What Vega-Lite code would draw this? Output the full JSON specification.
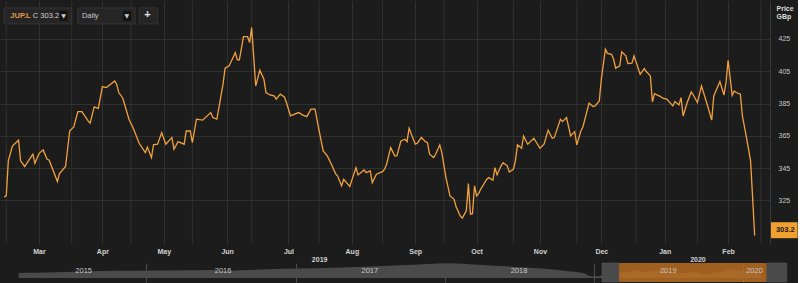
{
"$schema":"https://vega.github.io/schema/vega-lite/v6.json",
"background":"#1c1c1c",
"padding":0,
"bounds":"flush",
"spacing":19,
"config":{"view":{"stroke":null},"font":"Liberation Sans"},
"resolve":{"scale":{"x":"independent","y":"independent"}},
"datasets":{
"price":[
{"d":"2019-02-12","v":327.2},{"d":"2019-02-13","v":327.8},{"d":"2019-02-14","v":349.5},{"d":"2019-02-16","v":358.7},{"d":"2019-02-19","v":362.3},{"d":"2019-02-20","v":349.5},{"d":"2019-02-22","v":346.0},{"d":"2019-02-26","v":353.6},{"d":"2019-02-27","v":348.0},
{"d":"2019-03-01","v":354.0},{"d":"2019-03-03","v":356.3},{"d":"2019-03-05","v":350.5},{"d":"2019-03-06","v":349.9},{"d":"2019-03-10","v":336.7},{"d":"2019-03-11","v":341.6},{"d":"2019-03-14","v":346.0},{"d":"2019-03-16","v":368.0},{"d":"2019-03-18","v":370.5},{"d":"2019-03-20","v":380.0},{"d":"2019-03-22","v":380.0},{"d":"2019-03-25","v":374.2},{"d":"2019-03-26","v":372.8},{"d":"2019-03-28","v":382.9},{"d":"2019-03-30","v":382.0},
{"d":"2019-04-01","v":395.5},{"d":"2019-04-03","v":394.9},{"d":"2019-04-07","v":399.0},{"d":"2019-04-08","v":397.0},{"d":"2019-04-09","v":391.8},{"d":"2019-04-11","v":388.3},{"d":"2019-04-14","v":375.3},{"d":"2019-04-16","v":370.0},{"d":"2019-04-19","v":360.4},{"d":"2019-04-22","v":354.6},{"d":"2019-04-23","v":358.0},{"d":"2019-04-25","v":351.5},{"d":"2019-04-26","v":359.4},{"d":"2019-04-28","v":359.8},{"d":"2019-04-30","v":367.0},
{"d":"2019-05-02","v":359.8},{"d":"2019-05-05","v":363.9},{"d":"2019-05-06","v":356.7},{"d":"2019-05-08","v":361.4},{"d":"2019-05-11","v":359.8},{"d":"2019-05-12","v":368.0},{"d":"2019-05-14","v":368.0},{"d":"2019-05-15","v":360.8},{"d":"2019-05-17","v":375.3},{"d":"2019-05-20","v":374.7},{"d":"2019-05-24","v":379.4},{"d":"2019-05-25","v":376.3},{"d":"2019-05-27","v":375.3},{"d":"2019-05-30","v":397.0},{"d":"2019-05-31","v":406.9},
{"d":"2019-06-02","v":408.3},{"d":"2019-06-05","v":416.5},{"d":"2019-06-06","v":412.0},{"d":"2019-06-07","v":412.0},{"d":"2019-06-09","v":426.4},{"d":"2019-06-11","v":426.4},{"d":"2019-06-12","v":422.7},{"d":"2019-06-13","v":432.0},{"d":"2019-06-15","v":395.9},{"d":"2019-06-17","v":405.6},{"d":"2019-06-19","v":400.0},{"d":"2019-06-20","v":391.8},{"d":"2019-06-22","v":390.3},{"d":"2019-06-24","v":389.7},{"d":"2019-06-25","v":387.7},{"d":"2019-06-27","v":390.8},{"d":"2019-06-29","v":389.1},{"d":"2019-06-30","v":385.6},
{"d":"2019-07-02","v":377.3},{"d":"2019-07-04","v":378.4},{"d":"2019-07-06","v":379.4},{"d":"2019-07-08","v":377.8},{"d":"2019-07-10","v":376.9},{"d":"2019-07-12","v":381.5},{"d":"2019-07-14","v":381.5},{"d":"2019-07-16","v":368.0},{"d":"2019-07-18","v":355.6},{"d":"2019-07-20","v":352.6},{"d":"2019-07-22","v":347.4},{"d":"2019-07-24","v":341.6},{"d":"2019-07-25","v":340.2},{"d":"2019-07-27","v":334.0},{"d":"2019-07-28","v":338.1},{"d":"2019-07-31","v":333.6},
{"d":"2019-08-03","v":345.3},{"d":"2019-08-04","v":340.8},{"d":"2019-08-07","v":343.9},{"d":"2019-08-08","v":342.2},{"d":"2019-08-10","v":343.3},{"d":"2019-08-11","v":336.0},{"d":"2019-08-13","v":341.2},{"d":"2019-08-16","v":342.8},{"d":"2019-08-17","v":344.3},{"d":"2019-08-18","v":347.4},{"d":"2019-08-20","v":357.7},{"d":"2019-08-22","v":352.6},{"d":"2019-08-23","v":352.6},{"d":"2019-08-25","v":361.8},{"d":"2019-08-27","v":362.9},{"d":"2019-08-28","v":361.4},{"d":"2019-08-29","v":369.7},
{"d":"2019-09-01","v":359.8},{"d":"2019-09-02","v":360.4},{"d":"2019-09-04","v":363.9},{"d":"2019-09-06","v":361.4},{"d":"2019-09-07","v":360.8},{"d":"2019-09-08","v":353.6},{"d":"2019-09-10","v":351.5},{"d":"2019-09-11","v":353.6},{"d":"2019-09-13","v":359.4},{"d":"2019-09-14","v":354.6},{"d":"2019-09-16","v":339.2},{"d":"2019-09-18","v":327.8},{"d":"2019-09-20","v":325.7},{"d":"2019-09-21","v":321.0},{"d":"2019-09-23","v":315.4},{"d":"2019-09-24","v":314.0},{"d":"2019-09-26","v":318.5},{"d":"2019-09-27","v":335.4},{"d":"2019-09-28","v":316.5},{"d":"2019-09-29","v":316.8},{"d":"2019-09-30","v":334.0},
{"d":"2019-10-01","v":327.8},{"d":"2019-10-02","v":329.2},{"d":"2019-10-03","v":331.9},{"d":"2019-10-06","v":338.1},{"d":"2019-10-07","v":339.1},{"d":"2019-10-09","v":337.5},{"d":"2019-10-10","v":345.3},{"d":"2019-10-11","v":340.8},{"d":"2019-10-13","v":346.4},{"d":"2019-10-14","v":348.4},{"d":"2019-10-16","v":346.4},{"d":"2019-10-17","v":342.6},{"d":"2019-10-19","v":344.3},{"d":"2019-10-20","v":349.5},{"d":"2019-10-21","v":359.4},{"d":"2019-10-23","v":357.3},{"d":"2019-10-24","v":364.9},{"d":"2019-10-26","v":359.8},{"d":"2019-10-29","v":363.5},
{"d":"2019-11-01","v":357.3},{"d":"2019-11-03","v":359.8},{"d":"2019-11-05","v":368.5},{"d":"2019-11-07","v":363.5},{"d":"2019-11-08","v":363.9},{"d":"2019-11-11","v":375.3},{"d":"2019-11-12","v":373.8},{"d":"2019-11-14","v":376.3},{"d":"2019-11-16","v":364.9},{"d":"2019-11-18","v":367.6},{"d":"2019-11-19","v":359.4},{"d":"2019-11-21","v":368.0},{"d":"2019-11-22","v":370.5},{"d":"2019-11-25","v":385.2},{"d":"2019-11-27","v":383.1},{"d":"2019-11-28","v":383.5},{"d":"2019-11-30","v":386.6},
{"d":"2019-12-01","v":400.0},{"d":"2019-12-03","v":418.6},{"d":"2019-12-04","v":416.1},{"d":"2019-12-06","v":415.5},{"d":"2019-12-07","v":412.4},{"d":"2019-12-08","v":406.9},{"d":"2019-12-10","v":408.3},{"d":"2019-12-11","v":417.0},{"d":"2019-12-13","v":414.5},{"d":"2019-12-14","v":409.7},{"d":"2019-12-16","v":410.0},{"d":"2019-12-17","v":414.5},{"d":"2019-12-20","v":403.1},{"d":"2019-12-22","v":406.6},{"d":"2019-12-23","v":404.8},{"d":"2019-12-25","v":402.1},{"d":"2019-12-26","v":386.0},{"d":"2019-12-27","v":391.1},{"d":"2019-12-30","v":389.3},{"d":"2019-12-31","v":388.3},
{"d":"2020-01-02","v":387.7},{"d":"2020-01-05","v":383.5},{"d":"2020-01-06","v":386.2},{"d":"2020-01-08","v":384.1},{"d":"2020-01-09","v":388.7},{"d":"2020-01-10","v":377.3},{"d":"2020-01-12","v":385.6},{"d":"2020-01-14","v":392.2},{"d":"2020-01-15","v":390.3},{"d":"2020-01-17","v":385.6},{"d":"2020-01-19","v":395.9},{"d":"2020-01-22","v":383.5},{"d":"2020-01-24","v":374.7},{"d":"2020-01-25","v":389.7},{"d":"2020-01-28","v":398.6},{"d":"2020-01-30","v":390.3},{"d":"2020-01-31","v":398.0},
{"d":"2020-02-01","v":411.8},{"d":"2020-02-03","v":390.1},{"d":"2020-02-04","v":392.8},{"d":"2020-02-05","v":391.8},{"d":"2020-02-07","v":390.8},{"d":"2020-02-08","v":377.3},{"d":"2020-02-10","v":363.9},{"d":"2020-02-12","v":349.5},{"d":"2020-02-13","v":326.7},{"d":"2020-02-14","v":303.2}
],
"midgrid":[
{"d":"2019-02-13"},{"d":"2019-03-17"},{"d":"2019-04-15"},{"d":"2019-05-15"},{"d":"2019-06-13"},{"d":"2019-07-16"},{"d":"2019-08-16"},{"d":"2019-09-15"},{"d":"2019-10-19"},{"d":"2019-11-19"},{"d":"2019-12-18"},{"d":"2020-01-17"},{"d":"2020-02-17"}
],
"nav":[
{"d":"2015-02-23","v":372},{"d":"2015-03-30","v":376},{"d":"2015-06-15","v":392},{"d":"2015-09-10","v":410},{"d":"2015-12-15","v":416},{"d":"2016-03-01","v":420},{"d":"2016-05-11","v":424},{"d":"2016-06-23","v":428},{"d":"2016-07-05","v":408},{"d":"2016-08-20","v":426},{"d":"2016-10-22","v":444},{"d":"2017-01-15","v":458},{"d":"2017-04-02","v":476},{"d":"2017-06-20","v":496},{"d":"2017-09-13","v":524},{"d":"2017-11-20","v":550},{"d":"2018-01-13","v":564},{"d":"2018-03-10","v":540},{"d":"2018-05-15","v":510},{"d":"2018-07-15","v":480},{"d":"2018-09-15","v":444},{"d":"2018-10-25","v":410},{"d":"2018-12-04","v":370},{"d":"2018-12-27","v":300},{"d":"2019-01-15","v":310},
{"d":"2019-02-15","v":380},{"d":"2019-03-15","v":380},{"d":"2019-04-08","v":420},{"d":"2019-05-01","v":395},{"d":"2019-05-20","v":400},{"d":"2019-06-13","v":450},{"d":"2019-07-01","v":415},{"d":"2019-07-31","v":365},{"d":"2019-08-20","v":380},{"d":"2019-09-05","v":390},{"d":"2019-09-24","v":345},{"d":"2019-10-20","v":375},{"d":"2019-11-15","v":400},{"d":"2019-12-05","v":440},{"d":"2019-12-24","v":430},{"d":"2020-01-15","v":415},{"d":"2020-02-01","v":430},{"d":"2020-02-14","v":335}
],
"years":[
{"d":"2015-08-01","t":"2015"},{"d":"2016-07-07","t":"2016"},{"d":"2017-07-01","t":"2017"},{"d":"2018-07-01","t":"2018"},{"d":"2019-07-01","t":"2019"},{"d":"2020-01-28","t":"2020"}
]
},
"vconcat":[
{
"width":770,"height":243,
"resolve":{"axis":{"x":"independent"}},
"layer":[
{"data":{"name":"midgrid"},"mark":{"type":"rule","color":"#303030","strokeWidth":1},
 "encoding":{
  "x":{"field":"d","type":"temporal","scale":{"type":"utc","domain":[{"year":2019,"month":2,"date":9,"hours":22,"minutes":19,"utc":true},{"year":2020,"month":2,"date":21,"hours":12,"utc":true}]},
   "axis":{"orient":"bottom","offset":8,"title":null,"grid":false,"ticks":false,"domain":false,"labelColor":"#d2d2d2","labelFontSize":7,"labelFontWeight":"bold","labelPadding":3,"labelOverlap":false,"labelBound":false,"labelFlush":false,
    "values":[{"year":2019,"month":7,"date":16,"utc":true},{"year":2020,"month":1,"date":17,"utc":true}],
    "labelExpr":"utcFormat(datum.value + 259200000, '%Y')"}}}},
{"data":{"name":"price"},"mark":{"type":"line","color":"#f2a13f","strokeWidth":1.3},
 "encoding":{
  "x":{"field":"d","type":"temporal","scale":{"type":"utc","domain":[{"year":2019,"month":2,"date":9,"hours":22,"minutes":19,"utc":true},{"year":2020,"month":2,"date":21,"hours":12,"utc":true}]},
   "axis":{"orient":"bottom","title":null,"grid":true,"gridColor":"#303030","ticks":false,"domain":false,"labelColor":"#d2d2d2","labelFontSize":7,"labelFontWeight":"bold","labelPadding":3,"labelOverlap":false,"labelBound":false,"labelFlush":false,
    "values":[{"year":2019,"month":3,"date":1,"utc":true},{"year":2019,"month":4,"date":1,"utc":true},{"year":2019,"month":5,"date":1,"utc":true},{"year":2019,"month":6,"date":1,"utc":true},{"year":2019,"month":7,"date":1,"utc":true},{"year":2019,"month":8,"date":1,"utc":true},{"year":2019,"month":9,"date":1,"utc":true},{"year":2019,"month":10,"date":1,"utc":true},{"year":2019,"month":11,"date":1,"utc":true},{"year":2019,"month":12,"date":1,"utc":true},{"year":2020,"month":1,"date":1,"utc":true},{"year":2020,"month":2,"date":1,"utc":true}],
    "labelExpr":"utcFormat(datum.value + 259200000, '%b')"}},
  "y":{"field":"v","type":"quantitative","scale":{"domain":[298,448.5],"nice":false,"zero":false},
   "axis":{"orient":"right","values":[325,345,365,385,405,425],"grid":true,"gridColor":"#303030","ticks":false,"domain":true,"domainColor":"#3a3a3a","labelColor":"#c8c8c8","labelFontSize":7,"labelPadding":8,
    "title":["Price","GBp"],"titleAngle":0,"titleAlign":"left","titleBaseline":"top","titleX":6,"titleY":3,"titleFontSize":7,"titleFontWeight":"bold","titleColor":"#dddddd","titleLineHeight":8}}}},
{"data":{"values":[{}]},"mark":{"type":"rect","fill":"#252525","stroke":"#353535","strokeWidth":1},
 "encoding":{"x":{"datum":{"year":2019,"month":2,"date":12,"utc":true},"type":"temporal","axis":null},"x2":{"datum":{"year":2019,"month":3,"date":17,"utc":true}},"y":{"datum":444.2},"y2":{"datum":434.3}}},
{"data":{"values":[{}]},"mark":{"type":"rect","fill":"#252525","stroke":"#353535","strokeWidth":1},
 "encoding":{"x":{"datum":{"year":2019,"month":3,"date":20,"utc":true},"type":"temporal","axis":null},"x2":{"datum":{"year":2019,"month":4,"date":17,"utc":true}},"y":{"datum":444.2},"y2":{"datum":434.3}}},
{"data":{"values":[{}]},"mark":{"type":"rect","fill":"#252525","stroke":"#353535","strokeWidth":1},
 "encoding":{"x":{"datum":{"year":2019,"month":4,"date":19,"utc":true},"type":"temporal","axis":null},"x2":{"datum":{"year":2019,"month":4,"date":28,"utc":true}},"y":{"datum":444.2},"y2":{"datum":434.3}}},
{"data":{"values":[{}]},"mark":{"type":"rect","fill":"#121212"},
 "encoding":{"x":{"datum":{"year":2019,"month":3,"date":11,"utc":true},"type":"temporal","axis":null},"x2":{"datum":{"year":2019,"month":3,"date":15,"utc":true}},"y":{"datum":442.3},"y2":{"datum":436.2}}},
{"data":{"values":[{}]},"mark":{"type":"rect","fill":"#121212"},
 "encoding":{"x":{"datum":{"year":2019,"month":4,"date":11,"utc":true},"type":"temporal","axis":null},"x2":{"datum":{"year":2019,"month":4,"date":15,"utc":true}},"y":{"datum":442.3},"y2":{"datum":436.2}}},
{"data":{"values":[{}]},"mark":{"type":"text","align":"left","baseline":"middle","fontSize":7.5,"fontWeight":"bold","fill":"#e59a45"},
 "encoding":{"x":{"datum":{"year":2019,"month":2,"date":15,"utc":true},"type":"temporal","axis":null},"y":{"datum":439.2},"text":{"value":"JUP.L"}}},
{"data":{"values":[{}]},"mark":{"type":"text","align":"left","baseline":"middle","fontSize":7.5,"fill":"#d0d0d0"},
 "encoding":{"x":{"datum":{"year":2019,"month":2,"date":26,"utc":true},"type":"temporal","axis":null},"y":{"datum":439.2},"text":{"value":"C 303.2"}}},
{"data":{"values":[{}]},"mark":{"type":"text","align":"center","baseline":"middle","fontSize":6,"fill":"#cccccc","font":"DejaVu Sans"},
 "encoding":{"x":{"datum":{"year":2019,"month":3,"date":13,"utc":true},"type":"temporal","axis":null},"y":{"datum":439.2},"text":{"value":"▼"}}},
{"data":{"values":[{}]},"mark":{"type":"text","align":"left","baseline":"middle","fontSize":7.5,"fill":"#c8c8c8"},
 "encoding":{"x":{"datum":{"year":2019,"month":3,"date":22,"utc":true},"type":"temporal","axis":null},"y":{"datum":439.2},"text":{"value":"Daily"}}},
{"data":{"values":[{}]},"mark":{"type":"text","align":"center","baseline":"middle","fontSize":6,"fill":"#cccccc","font":"DejaVu Sans"},
 "encoding":{"x":{"datum":{"year":2019,"month":4,"date":13,"utc":true},"type":"temporal","axis":null},"y":{"datum":439.2},"text":{"value":"▼"}}},
{"data":{"values":[{}]},"mark":{"type":"text","align":"center","baseline":"middle","fontSize":11,"fontWeight":"bold","fill":"#e8e8e8"},
 "encoding":{"x":{"datum":{"year":2019,"month":4,"date":23,"utc":true},"type":"temporal","axis":null},"y":{"datum":439.6},"text":{"value":"+"}}},
{"data":{"values":[{}]},"mark":{"type":"rect","fill":"#f0a030"},
 "encoding":{"x":{"datum":{"year":2020,"month":2,"date":22,"utc":true},"type":"temporal","axis":null},"x2":{"datum":{"year":2020,"month":3,"date":6,"utc":true}},"y":{"datum":311.5},"y2":{"datum":301.6}}},
{"data":{"values":[{}]},"mark":{"type":"text","align":"center","baseline":"middle","fontSize":7.5,"fontWeight":"bold","fill":"#1a1a1a"},
 "encoding":{"x":{"datum":{"year":2020,"month":2,"date":29,"utc":true},"type":"temporal","axis":null},"y":{"datum":306.6},"text":{"value":"303.2"}}}
]
},
{
"width":797,"height":19,
"layer":[
{"data":{"name":"nav"},"mark":{"type":"area","color":"#4a4a4a","interpolate":"monotone"},
 "encoding":{
  "x":{"field":"d","type":"temporal","scale":{"type":"utc","domain":[{"year":2015,"month":1,"date":8,"hours":7,"utc":true},{"year":2020,"month":5,"date":11,"utc":true}]},
   "axis":{"title":null,"labels":false,"ticks":false,"domain":false,"grid":true,"gridColor":"#4c4c4c",
    "values":[{"year":2016,"month":1,"date":1,"utc":true},{"year":2017,"month":1,"date":1,"utc":true},{"year":2018,"month":1,"date":1,"utc":true},{"year":2019,"month":1,"date":1,"utc":true},{"year":2020,"month":1,"date":1,"utc":true}]}},
  "y":{"field":"v","type":"quantitative","scale":{"domain":[190,570],"nice":false,"zero":false},"axis":null},
  "y2":{"datum":270}}},
{"data":{"values":[{}]},"mark":{"type":"rect","fill":"#c0701f","opacity":0.8},
 "encoding":{"x":{"datum":{"year":2019,"month":3,"date":2,"utc":true},"type":"temporal"},"x2":{"datum":{"year":2020,"month":2,"date":27,"utc":true}}}},
{"data":{"values":[{}]},"mark":{"type":"rect","fill":"#4a4a4a","stroke":"#5a5a5a","strokeWidth":0.5},
 "encoding":{"x":{"datum":{"year":2019,"month":1,"date":20,"utc":true},"type":"temporal"},"x2":{"datum":{"year":2019,"month":3,"date":2,"utc":true}}}},
{"data":{"values":[{}]},"mark":{"type":"rect","fill":"#4a4a4a","stroke":"#5a5a5a","strokeWidth":0.5},
 "encoding":{"x":{"datum":{"year":2020,"month":2,"date":27,"utc":true},"type":"temporal"},"x2":{"datum":{"year":2020,"month":4,"date":16,"utc":true}}}},
{"data":{"name":"years"},"mark":{"type":"text","align":"center","baseline":"middle","fontSize":7.5,"fill":"#c4c4c4","dy":-2},
 "encoding":{"x":{"field":"d","type":"temporal"},"text":{"field":"t"}}}
]
}
]
}
